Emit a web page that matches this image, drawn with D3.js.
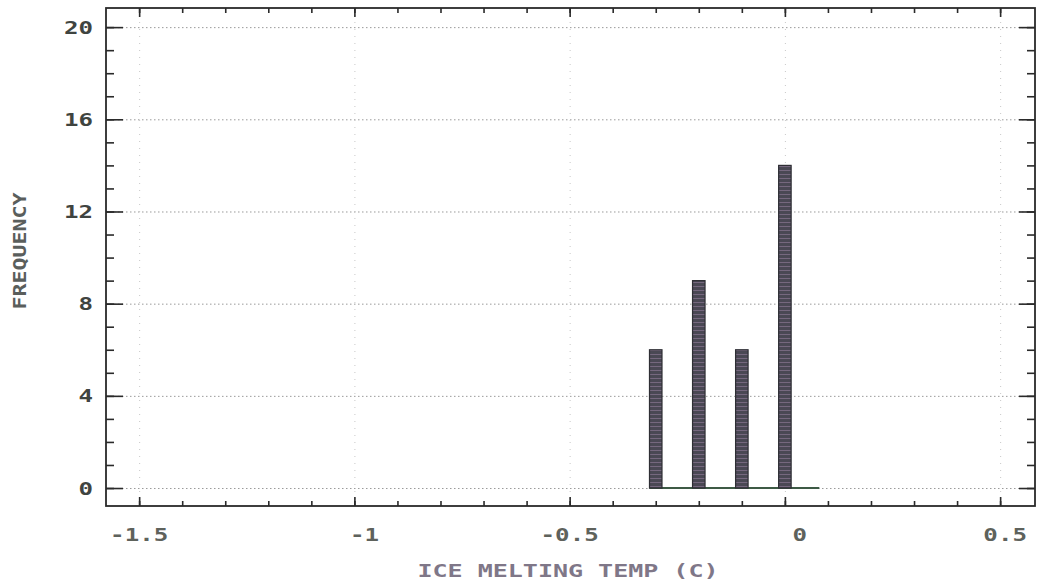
<!DOCTYPE html>
<html>
<head>
<meta charset="utf-8">
<script src="https://d3js.org/d3.v7.min.js"></script>
<style>
  body { margin: 0; background: #fff; }
  svg { display: block; }
  text { font-family: "DejaVu Sans Mono", "Liberation Mono", monospace; font-weight: bold; }
</style>
</head>
<body>
<svg width="1040" height="583"></svg>
<script>
// histogram bins (bin centre in C) and counts
const temps = [-0.3, -0.2, -0.1, 0.0];
const freqs = [6, 9, 6, 14];
const xTicks = [-1.5, -1, -0.5, 0, 0.5];
const xLabels = ["-1.5", "-1", "-0.5", "0", "0.5"];
const yTicks = [0, 4, 8, 12, 16, 20];
const yLabels = ["0", "4", "8", "12", "16", "20"];
const baseRange = [-0.315, 0.08];

const svg = d3.select("svg");
const pLeft = 106, pRight = 1035, pTop = 8, pBottom = 506;

const x = d3.scaleLinear().domain([-1.577, 0.581]).range([pLeft, pRight]);
const y = d3.scaleLinear().domain([-0.78, 20.83]).range([pBottom, pTop]);

const xMinor = d3.range(-15, 6).map(d => d / 10);
const yMinor = d3.range(0, 21);

// dotted grid
svg.append("g").attr("transform", `translate(${pLeft},0)`)
  .call(d3.axisLeft(y).tickValues(yTicks).tickSize(-(pRight - pLeft)).tickFormat(""))
  .call(g => g.select(".domain").remove())
  .selectAll("line").attr("stroke", "#9a9a9a").attr("stroke-dasharray", "1.5,2.5").attr("stroke-width", 1);
svg.append("g").attr("transform", `translate(0,${pBottom})`)
  .call(d3.axisBottom(x).tickValues(xTicks).tickSize(-(pBottom - pTop)).tickFormat(""))
  .call(g => g.select(".domain").remove())
  .selectAll("line").attr("stroke", "#c8c8c8").attr("stroke-dasharray", "1,6").attr("stroke-width", 1);

// bars
const barW = 12.5;
svg.append("line")
  .attr("x1", x(baseRange[0])).attr("x2", x(baseRange[1]))
  .attr("y1", y(0)).attr("y2", y(0))
  .attr("stroke", "#3d5a45").attr("stroke-width", 2);

const defs = svg.append("defs");
const pat = defs.append("pattern").attr("id", "stripe")
  .attr("patternUnits", "userSpaceOnUse").attr("width", 8).attr("height", 4);
pat.append("rect").attr("width", 8).attr("height", 4).attr("fill", "#4a4854");
pat.append("rect").attr("y", 2).attr("width", 8).attr("height", 1).attr("fill", "#76687f");

svg.append("g").selectAll("rect")
  .data(temps)
  .join("rect")
  .attr("x", d => x(d) - barW / 2)
  .attr("y", (d, i) => y(freqs[i]))
  .attr("width", barW)
  .attr("height", (d, i) => y(0) - y(freqs[i]))
  .attr("fill", "url(#stripe)")
  .attr("stroke", "#2e2e34")
  .attr("stroke-width", 1.2);

// frame with inward ticks on all sides
function ticks(axis, tr) {
  const g = svg.append("g").attr("transform", tr).call(axis);
  g.select(".domain").remove();
  g.selectAll("line").attr("stroke", "#2a2a2a").attr("stroke-width", 1.6);
}
ticks(d3.axisLeft(y).tickValues(yMinor).tickSize(-8).tickFormat(""), `translate(${pLeft},0)`);
ticks(d3.axisLeft(y).tickValues(yTicks).tickSize(-17).tickFormat(""), `translate(${pLeft},0)`);
ticks(d3.axisRight(y).tickValues(yMinor).tickSize(-8).tickFormat(""), `translate(${pRight},0)`);
ticks(d3.axisRight(y).tickValues(yTicks).tickSize(-16).tickFormat(""), `translate(${pRight},0)`);
ticks(d3.axisTop(x).tickValues(xMinor).tickSize(-5).tickFormat(""), `translate(0,${pTop})`);
ticks(d3.axisTop(x).tickValues(xTicks).tickSize(-9).tickFormat(""), `translate(0,${pTop})`);
ticks(d3.axisBottom(x).tickValues(xMinor).tickSize(-5).tickFormat(""), `translate(0,${pBottom})`);
ticks(d3.axisBottom(x).tickValues(xTicks).tickSize(-9).tickFormat(""), `translate(0,${pBottom})`);

svg.append("rect")
  .attr("x", pLeft).attr("y", pTop)
  .attr("width", pRight - pLeft).attr("height", pBottom - pTop)
  .attr("fill", "none").attr("stroke", "#2a2a2a").attr("stroke-width", 1.8);

// wide plotter-style lettering: stretch glyphs horizontally
const wide = 1.34;

svg.append("g").selectAll("text")
  .data(yTicks)
  .join("text")
  .attr("transform", d => `translate(93,${y(d) + 6.5}) scale(${wide},1)`)
  .attr("text-anchor", "end")
  .attr("font-size", 18)
  .attr("fill", "#3f4440")
  .text((d, i) => yLabels[i]);

svg.append("g").selectAll("text")
  .data(xTicks)
  .join("text")
  .attr("transform", (d, i) => `translate(${x(d) + (4 - xLabels[i].length) * 5},541) scale(${wide},1)`)
  .attr("text-anchor", "middle")
  .attr("font-size", 18)
  .attr("fill", "#5e625c")
  .text((d, i) => xLabels[i]);

// axis titles
svg.append("text")
  .attr("transform", `translate(568,577) scale(1.39,1)`)
  .attr("text-anchor", "middle")
  .attr("font-size", 18)
  .attr("fill", "#7f7788")
  .text("ICE MELTING TEMP (C)");

svg.append("text")
  .attr("transform", "translate(26,251) rotate(-90) scale(1.27,1)")
  .attr("text-anchor", "middle")
  .attr("font-size", 17)
  .attr("fill", "#5a5e5c")
  .text("FREQUENCY");
</script>
</body>
</html>
